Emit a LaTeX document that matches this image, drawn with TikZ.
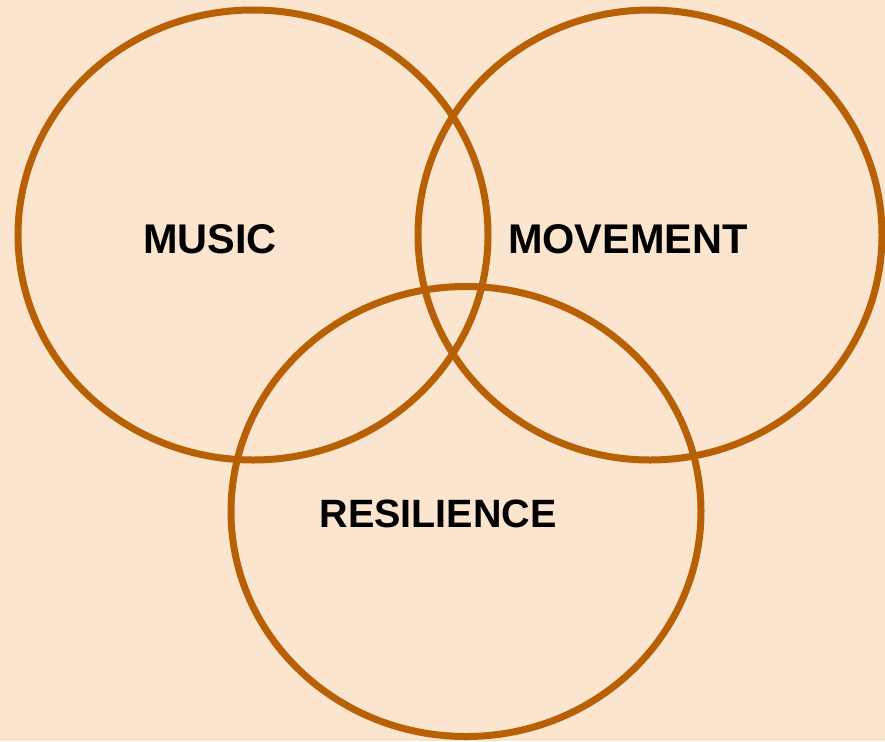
\documentclass[tikz,border=0pt]{standalone}
\usepackage{fontspec}
\setmainfont{Liberation Sans}
\usepackage{tikz}
\definecolor{peach}{RGB}{251,229,206}
\definecolor{rust}{RGB}{183,96,5}
\tikzset{
	ring/.style={draw=rust, line width=7pt},
	lbl/.style={anchor=base, font=\fontsize{41.5}{48}\selectfont\bfseries, text=black, inner sep=0pt}
}

\begin{document}
\begin{tikzpicture}[x=1pt, y=-1pt]
				\fill[peach] (0,0) rectangle (885,741);
				\useasboundingbox (0,0) rectangle (885,741);
				\coordinate (cmusic) at (253,235);
				\coordinate (cmove) at (650,235);
				\coordinate (cres) at (466,511.5);
				\draw[ring] (cmusic) ellipse (235 and 225);
				\draw[ring] (cmove) ellipse (232 and 225);
				\draw[ring] (cres) ellipse (235 and 225);
				\node[lbl] (music) at (210,253) {MUSIC};
				\node[lbl] (movement) at (628,253) {MOVEMENT};
				\node[lbl, font=\fontsize{39.5}{48}\selectfont\bfseries] (resilience) at (438,527.5) {RESILIENCE};
			\end{tikzpicture}
\end{document}
